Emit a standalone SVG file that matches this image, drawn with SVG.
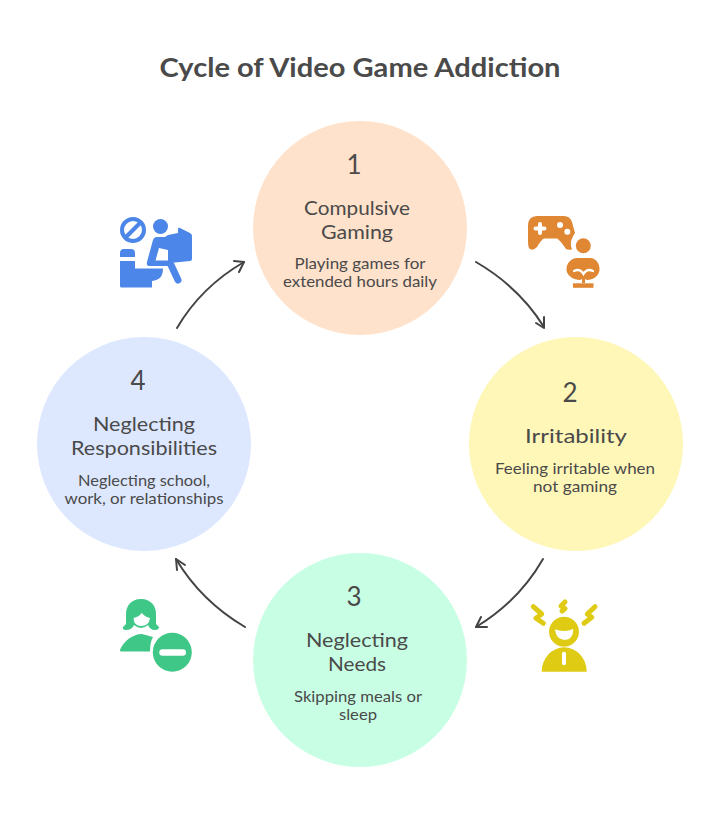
<svg xmlns="http://www.w3.org/2000/svg" width="720" height="829" viewBox="0 0 720 829">
<style>
text{font-family:"Lato","Noto Sans",sans-serif;fill:#4a4a4a;text-anchor:middle}
.t{font-size:26px;font-weight:700}
.n{font-size:26px}
.h{font-size:20px}
.d{font-size:15px}
.c{fill:none;stroke:#444;stroke-width:2;stroke-linecap:round;stroke-linejoin:round}
</style>
<rect width="720" height="829" fill="#fff"/>
<text class="t" x="360" y="77" textLength="401" lengthAdjust="spacingAndGlyphs">Cycle of Video Game Addiction</text>
<g id="connectors">
<path class="c" d="M476 262Q519 287 544 327"/><path class="c" d="M536 323L544 328L544 317"/>
<path class="c" d="M543 559Q519 601 476 627"/><path class="c" d="M487 627L476 627L481 617"/>
<path class="c" d="M245 627Q201 601 176 559"/><path class="c" d="M177 570L176 559L185 565"/>
<path class="c" d="M177 328Q201 287 244 262"/><path class="c" d="M234 261L244 262L239 272"/>
</g>
<g id="node1">
<circle cx="360" cy="228" r="107" fill="#ffe2cb"/>
<text class="n" x="354" y="174">1</text>
<text class="h" x="357" y="215" textLength="106" lengthAdjust="spacingAndGlyphs">Compulsive</text>
<text class="h" x="357" y="239" textLength="72" lengthAdjust="spacingAndGlyphs">Gaming</text>
<text class="d" x="360" y="269" textLength="131" lengthAdjust="spacingAndGlyphs">Playing games for</text>
<text class="d" x="360" y="287" textLength="154" lengthAdjust="spacingAndGlyphs">extended hours daily</text>
</g>
<g id="node2">
<circle cx="576" cy="444" r="107" fill="#fff7b8"/>
<text class="n" x="570" y="402">2</text>
<text class="h" x="576" y="443" textLength="102" lengthAdjust="spacingAndGlyphs">Irritability</text>
<text class="d" x="575" y="474" textLength="160" lengthAdjust="spacingAndGlyphs">Feeling irritable when</text>
<text class="d" x="575" y="492" textLength="84" lengthAdjust="spacingAndGlyphs">not gaming</text>
</g>
<g id="node3">
<circle cx="360" cy="660" r="107" fill="#c8ffe4"/>
<text class="n" x="354" y="606">3</text>
<text class="h" x="357" y="647" textLength="102" lengthAdjust="spacingAndGlyphs">Neglecting</text>
<text class="h" x="357" y="671" textLength="58" lengthAdjust="spacingAndGlyphs">Needs</text>
<text class="d" x="358" y="702" textLength="128" lengthAdjust="spacingAndGlyphs">Skipping meals or</text>
<text class="d" x="358" y="720" textLength="38" lengthAdjust="spacingAndGlyphs">sleep</text>
</g>
<g id="node4">
<circle cx="144" cy="444" r="107" fill="#dde8ff"/>
<text class="n" x="138" y="390">4</text>
<text class="h" x="144" y="431" textLength="102" lengthAdjust="spacingAndGlyphs">Neglecting</text>
<text class="h" x="144" y="455" textLength="146" lengthAdjust="spacingAndGlyphs">Responsibilities</text>
<text class="d" x="144" y="486" textLength="132" lengthAdjust="spacingAndGlyphs">Neglecting school,</text>
<text class="d" x="144" y="504" textLength="159" lengthAdjust="spacingAndGlyphs">work, or relationships</text>
</g>
<g id="icon1" fill="#4b86e8">
<circle cx="133" cy="230" r="11" fill="none" stroke="#4b86e8" stroke-width="4"/>
<path d="M126 237L140 223" stroke="#4b86e8" stroke-width="4"/>
<circle cx="160.500" cy="226.500" r="7.500"/>
<path d="M120 257V253Q120 249 124 249H131Q135 249 135 253V257ZM120 261H135V268.500H163Q163 280 152 281V287.500H121.500Q120 287.500 120 286Z"/>
<path fill-rule="evenodd" d="M168 235L178 233V229Q178 227 180 228L190 233Q192 234 192 236V259Q192 261 190 261L170 263V266H150Q146 266 147 262L153 240Q154 237 157 237H165ZM159 248L155.500 260.500H168V250Z"/>
<path d="M171 265L178 280" stroke="#4b86e8" stroke-width="7" stroke-linecap="round"/>
</g>
<g id="icon2" fill="#e08733">
<path d="M537 216H564Q570 216 572 222L575 233Q570 240 571 246L572 249.500Q568 250 566 249Q560 240 557 238.500H544Q541 240 537 247Q532 252 529 248Q528 246 528 240V226Q528 216 537 216Z"/>
<path d="M540 224v9M535.500 228.500h9" stroke="#fff" stroke-width="4" stroke-linecap="round"/>
<circle cx="560" cy="225" r="3" fill="#fff"/><circle cx="567.300" cy="231.700" r="3" fill="#fff"/>
<circle cx="583.300" cy="245.700" r="7.500"/>
<path d="M577 258H590C596 258 600 264 599.500 270C599 276 593 280 587 280L585 279V283H582V279L580 280C574 280 567 276 566.500 270C566 264 571 258 577 258Z"/>
<path d="M574 271Q580 268 583.500 274Q587 268 593 271" fill="none" stroke="#fff" stroke-width="2.200" stroke-linecap="round"/>
<rect x="573" y="283.300" width="20.500" height="4.500"/>
</g>
<g id="icon3" fill="#e0cb14">
<path fill-rule="evenodd" d="M564 616.700a15 15 0 1 0 .01 0ZM555 629.300Q564 633 573.300 629Q573 640 565 640Q556 640 555 629.300Z"/>
<path fill-rule="evenodd" d="M541.700 671.700a22.500 24.400 0 0 1 45 0ZM564 651.700q-2 0-2 2v9.500q0 2 2 2q2 0 2-2v-9.500q0-2-2-2Z"/>
<path d="M533.300 606.700L541.700 614L536 618.300L543.300 623.300" fill="none" stroke="#e0cb14" stroke-width="5" stroke-linecap="round" stroke-linejoin="round"/>
<path d="M595 606.700L587.300 614L591.700 617.300L584 623.300" fill="none" stroke="#e0cb14" stroke-width="5" stroke-linecap="round" stroke-linejoin="round"/>
<path d="M565 602L561 606L565 608.500L562 611" fill="none" stroke="#e0cb14" stroke-width="5" stroke-linecap="round" stroke-linejoin="round"/>
</g>
<g id="icon4" fill="#3fc787">
<path d="M141 599C151 599 156 606 156 614V624L159 627Q159 630 155 630Q150 630 148 625Q141 631 134 625Q132 630 126 630Q122 630 123 627L126 624V614C126 606 131 599 141 599Z"/>
<path fill="#fff" d="M141.700 612.700Q139 617 133.500 618Q134 626 141 626Q149 626 150 618Q145 617 141.700 612.700Z"/>
<path d="M120 650C123 642 132 634 142 634L153 637Q150 642 150 651.500H122Q120 652 120 650Z"/>
<circle cx="172.300" cy="652.300" r="19.500"/>
<rect x="159.300" y="649.300" width="26.700" height="6.400" rx="3.200" fill="#fff"/>
</g>
</svg>
